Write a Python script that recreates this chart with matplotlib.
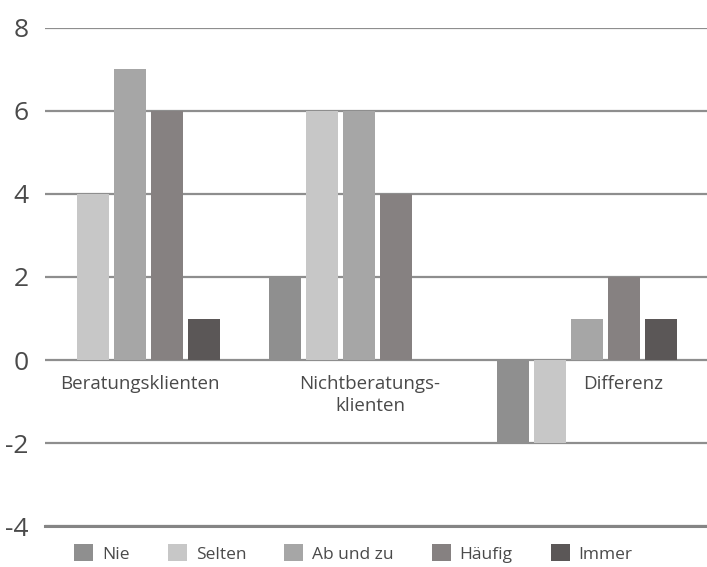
import matplotlib
matplotlib.use("Agg")
import matplotlib.pyplot as plt
import numpy as np

plt.rcParams["font.family"] = ["Open Sans", "DejaVu Sans"]

# Daten
GROUPS = ["Beratungsklienten", "Nichtberatungs-\nklienten", "Differenz"]
SERIES = ["Nie", "Selten", "Ab und zu", "Häufig", "Immer"]
NIE = [0, 2, -2]
SELTEN = [4, 6, -2]
AB_UND_ZU = [7, 6, 1]
HAEUFIG = [6, 4, 2]
IMMER = [1, 0, 1]
COLORS = ["#8f8f8f", "#c7c7c7", "#a6a6a6", "#868181", "#5b5757"]

values = [NIE, SELTEN, AB_UND_ZU, HAEUFIG, IMMER]

fig, ax = plt.subplots(figsize=(7.07, 5.67), dpi=100)
fig.subplots_adjust(left=0.064, right=1.0, top=0.951, bottom=0.072)

x = np.arange(len(GROUPS))
pitch = 0.162
width = 0.14
for i, (name, vals, col) in enumerate(zip(SERIES, values, COLORS)):
    ax.bar(x + (i - 2) * pitch, vals, width=width, color=col, label=name,
           edgecolor="none", zorder=3)

ax.set_ylim(-4, 8)
ax.set_xlim(-0.372, 2.525)
ax.set_yticks(range(-4, 9, 2))
ax.set_yticklabels([str(v) for v in range(-4, 9, 2)], fontsize=19, color="#4a4a4a")
ax.tick_params(axis="y", length=0, pad=12)
ax.set_xticks([])
ax.grid(axis="y", color="#8e8e8e", linewidth=1.6, zorder=0)
for s in ["top", "right", "left"]:
    ax.spines[s].set_visible(False)
ax.spines["bottom"].set_color("#858585")
ax.spines["bottom"].set_linewidth(2.2)

# Kategorien direkt unter der Nulllinie
label_shift = [0.044, 0.05, 0.16]
for xi, lab, dx in zip(x, GROUPS, label_shift):
    ax.annotate(lab, (xi + dx, 0), xytext=(0, -11), textcoords="offset points",
                ha="center", va="top", fontsize=13.5, color="#4a4a4a",
                linespacing=1.25)

fig.legend(loc="lower center", bbox_to_anchor=(0.5, -0.02), ncol=5,
           frameon=False, fontsize=12.5, handlelength=1.1, handleheight=1.1,
           columnspacing=2.2, handletextpad=0.5, labelcolor="#4a4a4a")

fig.savefig("out.png", dpi=100)
